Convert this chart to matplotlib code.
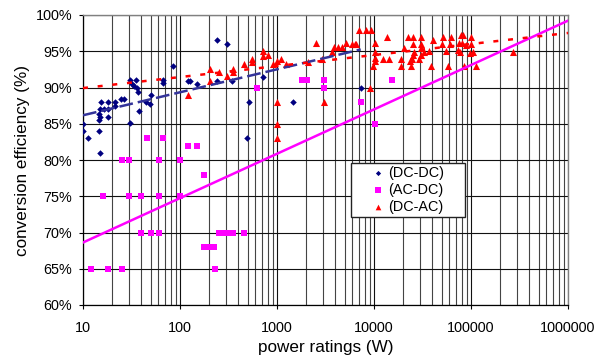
import numpy as np
import matplotlib
matplotlib.use("Agg")
import matplotlib.pyplot as plt
from matplotlib.ticker import FixedLocator, FuncFormatter, LogLocator, NullFormatter

plt.rcParams['font.family'] = ['Liberation Sans', 'DejaVu Sans']

# ---- data (power W, efficiency %) ----
dcdc_x = [10, 10, 11.3, 14.5, 14.9, 14.9, 16.5, 17.9, 14.5, 14.9, 14.5, 18.1, 15.5, 17.9,
          21.6, 21.6, 24.9, 26.5, 30.3, 32.3, 35.6, 33.6, 36.1, 37.0, 37.9, 30.3, 45, 49,
          50, 66.9, 66.9, 85, 121, 126, 151, 241, 306, 241, 344, 494, 515, 711, 1470, 7340]
dcdc_y = [85.0, 84.0, 83.0, 84.0, 80.9, 87.0, 87.0, 87.0, 86.4, 86.0, 85.5, 86.0, 88.0, 88.0,
          88.0, 87.5, 88.4, 88.4, 91.0, 90.5, 91.0, 90.2, 89.9, 89.4, 86.8, 85.1, 88.0, 87.7,
          89.0, 91.0, 90.6, 93.0, 90.9, 90.9, 90.5, 96.6, 96.0, 90.9, 90.9, 83.0, 88.0, 91.5, 88.0, 90.0]

acdc_x = [12, 18.1, 25.1, 16.1, 25.1, 30.1, 60.4, 100, 45.8, 66.1, 121, 151, 176, 30.1, 40,
          60.4, 100, 40, 50.3, 60.4, 176, 198, 223, 232, 252, 272, 302, 354, 453, 617, 1830,
          2060, 3030, 3030, 7340, 10200, 15200]
acdc_y = [65, 65, 65, 75, 80, 80, 80, 80, 83, 83, 82, 82, 78, 75, 75,
          75, 75, 70, 70, 70, 68, 68, 68, 65, 70, 70, 70, 70, 70, 90, 91,
          91, 91, 90, 88, 85, 91]

dcac_x = [121, 203, 203, 253, 306, 354, 354, 457, 558, 558, 711, 711, 810, 910, 1010, 1110,
          1250, 2070, 2510, 2880, 3060, 1010, 1010, 1010, 3710, 3900, 4300, 4700, 5100, 5900,
          6300, 6600, 7000, 8300, 9400, 10200, 10200, 10200, 10200, 9800, 9150, 12300, 14300,
          13600, 19100, 19100, 20300, 22400, 25400, 30800, 25400, 30800, 30800, 26000, 25200,
          24600, 23600, 24000, 29300, 30600, 33000, 37000, 41000, 38500, 51200, 61700, 50000,
          55000, 61000, 58000, 79000, 83000, 101000, 75000, 81000, 88000, 99000, 74000, 77000,
          97000, 105000, 85000, 113000, 270000]
dcac_y = [88.9, 92.5, 90.9, 92.2, 91.6, 92.6, 92.2, 93.3, 93.9, 93.5, 95.1, 94.4, 94.5, 93.3,
          93.6, 94.0, 93.3, 93.5, 96.1, 94.0, 88.0, 88.0, 85.0, 83.0, 94.9, 95.6, 95.6, 95.6,
          96.1, 96.0, 96.0, 96.0, 97.9, 97.9, 97.9, 96.2, 94.9, 94.1, 93.6, 93.0, 90.0, 94.0,
          94.0, 97.0, 94.0, 93.0, 95.5, 97.0, 97.0, 97.0, 96.0, 96.0, 95.5, 94.9, 94.5, 94.0,
          93.6, 93.0, 94.0, 94.5, 94.9, 95.1, 96.5, 93.0, 97.0, 97.0, 96.0, 95.1, 96.0, 93.0,
          97.2, 97.2, 97.0, 96.1, 96.1, 95.8, 96.0, 95.2, 94.9, 94.7, 94.9, 93.0, 92.9, 94.9]

# logarithmic trend lines: y = a + b*log10(x), over [xmin, xmax]
trend_dcdc = [83.0, 3.17]
trend_dcdc_range = [10, 7300]
trend_acdc = [62.5, 6.12]
trend_acdc_range = [10, 1e6]
trend_dcac = [88.4, 1.52]
trend_dcac_range = [10, 1e6]

x_ticks = [10, 100, 1000, 10000, 100000, 1000000]
y_ticks = [60, 65, 70, 75, 80, 85, 90, 95, 100]
labels = ['(DC-DC)', '(AC-DC)', '(DC-AC)']

# ---- figure ----
W, H = 608, 356
fig = plt.figure(figsize=(W / 100, H / 100), dpi=100)
L, R, T, B = 83, 568, 15, 305
ax = fig.add_axes([L / W, 1 - B / H, (R - L) / W, (B - T) / H])

ax.set_xscale('log')
ax.set_xlim(10, 1e6)
ax.set_ylim(60, 100)

ax.xaxis.set_major_locator(FixedLocator(x_ticks))
ax.xaxis.set_major_formatter(FuncFormatter(lambda v, p: f"{int(round(v))}"))
ax.xaxis.set_minor_locator(LogLocator(base=10, subs=np.arange(2, 10)))
ax.xaxis.set_minor_formatter(NullFormatter())
ax.yaxis.set_major_locator(FixedLocator(y_ticks))
ax.yaxis.set_major_formatter(FuncFormatter(lambda v, p: f"{v:.0f}%"))

ax.grid(which='major', axis='both', color='#111111', lw=0.8, zorder=0)
ax.grid(which='minor', axis='x', color='#444444', lw=0.8, zorder=0)
ax.set_axisbelow(True)

ax.tick_params(which='major', direction='out', length=3.2, width=0.8, color='black',
               labelsize=10.4, colors='black')
ax.tick_params(axis='x', which='major', pad=8)
ax.tick_params(axis='y', which='major', pad=4.5)
ax.tick_params(which='minor', length=0)

for s in ['left', 'bottom']:
    ax.spines[s].set_color('black')
    ax.spines[s].set_linewidth(0.9)
for s in ['top', 'right']:
    ax.spines[s].set_color('#808080')
    ax.spines[s].set_linewidth(1.0)

sc1 = ax.scatter(dcdc_x, dcdc_y, marker='D', s=11, color='#000080', linewidths=0, zorder=3)
sc2 = ax.scatter(acdc_x, acdc_y, marker='s', s=22, color='#FF00FF', linewidths=0, zorder=3)
sc3 = ax.scatter(dcac_x, dcac_y, marker='^', s=26, color='#FF0000', linewidths=0, zorder=3)

def trend(coef, rng):
    xs = np.logspace(np.log10(rng[0]), np.log10(rng[1]), 50)
    return xs, coef[0] + coef[1] * np.log10(xs)

xs, ys = trend(trend_dcdc, trend_dcdc_range)
ax.plot(xs, ys, color='#333399', lw=1.8, dashes=(5.5, 2.0), zorder=4, solid_capstyle='butt')
xs, ys = trend(trend_acdc, trend_acdc_range)
ax.plot(xs, ys, color='#FF00FF', lw=1.8, zorder=4)
xs, ys = trend(trend_dcac, trend_dcac_range)
ax.plot(xs, ys, color='#FF0000', lw=1.8, dashes=(2.0, 3.9), zorder=4)

ax.set_xlabel('power ratings (W)', fontsize=12.3, labelpad=4)
ax.set_ylabel('conversion efficiency (%)', fontsize=12.3, labelpad=4)

x0 = (351 - L) / (R - L)
x1 = (465 - L) / (R - L)
y1 = (B - 163) / (B - T)
y0 = (B - 220) / (B - T)
leg = ax.legend([sc1, sc2, sc3], labels, loc='upper left',
                bbox_to_anchor=(x0, y0, x1 - x0, y1 - y0), mode='expand',
                borderaxespad=0, fontsize=10.4, frameon=True, fancybox=False,
                framealpha=1, edgecolor='#222222', borderpad=0.2,
                handlelength=3.4, handletextpad=-1.0, labelspacing=0.2,
                scatterpoints=1, markerscale=0.8)
leg.get_frame().set_linewidth(1.0)
leg.set_zorder(6)

fig.savefig('out.png', dpi=100)
